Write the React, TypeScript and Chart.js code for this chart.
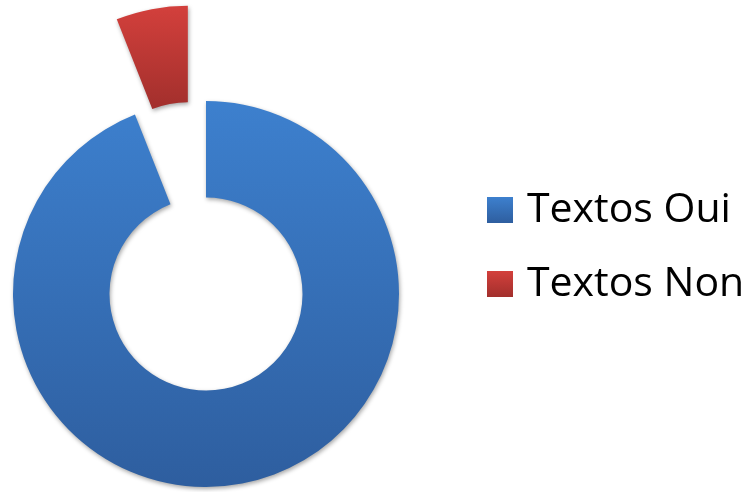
import React, { useEffect, useRef } from 'react';
import { Chart, registerables } from 'chart.js';

Chart.register(...registerables);

// ---- data ----
const categories: string[] = ['Textos Oui', 'Textos Non'];
const values: number[] = [94, 6];

// ---- styles ----
const TOP_COLORS = ['#3D80CE', '#D3403C'];
const BOTTOM_COLORS = ['#2E5E9F', '#A22F2C'];
const MID_COLORS = ['#3670B8', '#BC3734'];
const EXPLODE_PX = [0, 97];
const FONT_FAMILY = "'Open Sans', 'Noto Sans', sans-serif";
const SHIFT = 49; // canvas extends this far left of the page edge
const CANVAS_W = 809;
const CANVAS_H = 492;

function arcBounds(el: any) {
  const { y, startAngle, endAngle, innerRadius, outerRadius } = el;
  let top = Infinity;
  let bottom = -Infinity;
  const n = 90;
  for (let i = 0; i <= n; i++) {
    const a = startAngle + ((endAngle - startAngle) * i) / n;
    for (const r of [innerRadius, outerRadius]) {
      const py = y + Math.sin(a) * r;
      if (py < top) top = py;
      if (py > bottom) bottom = py;
    }
  }
  return { top, bottom };
}

const excelStyle = {
  id: 'excelStyle',
  afterDatasetsUpdate(chart: any) {
    const meta = chart.getDatasetMeta(0);
    const ctx = chart.ctx as CanvasRenderingContext2D;
    meta.data.forEach((el: any, i: number) => {
      const d = EXPLODE_PX[i] || 0;
      if (d) {
        const mid = (el.startAngle + el.endAngle) / 2;
        el.x += Math.cos(mid) * d;
        el.y += Math.sin(mid) * d;
      }
      const { top, bottom } = arcBounds(el);
      const g = ctx.createLinearGradient(0, top, 0, bottom);
      g.addColorStop(0, TOP_COLORS[i]);
      g.addColorStop(1, BOTTOM_COLORS[i]);
      el.options = Object.assign({}, el.options, { backgroundColor: g });
    });
  },
  beforeDatasetsDraw(chart: any) {
    const c = chart.ctx as CanvasRenderingContext2D;
    c.save();
    c.shadowColor = 'rgba(0,0,0,0.35)';
    c.shadowBlur = 4;
    c.shadowOffsetX = 1;
    c.shadowOffsetY = 2;
  },
  afterDatasetsDraw(chart: any) {
    chart.ctx.restore();
  },
};

function makeSwatch(i: number): HTMLCanvasElement {
  const s = document.createElement('canvas');
  s.width = 26;
  s.height = 26;
  const c = s.getContext('2d')!;
  const g = c.createLinearGradient(0, 0, 0, 26);
  g.addColorStop(0, TOP_COLORS[i]);
  g.addColorStop(1, BOTTOM_COLORS[i]);
  c.fillStyle = g;
  c.fillRect(0, 0, 26, 26);
  return s;
}

export default function App() {
  const ref = useRef<HTMLCanvasElement | null>(null);

  useEffect(() => {
    if (!ref.current) return;
    const swatches = categories.map((_, i) => makeSwatch(i));
    const chart = new Chart(ref.current, {
      type: 'doughnut',
      data: {
        labels: categories,
        datasets: [
          {
            data: values,
            backgroundColor: MID_COLORS,
            borderWidth: 0,
          },
        ],
      },
      options: {
        animation: false,
        responsive: false,
        events: [],
        radius: 193,
        cutout: '50%',
        layout: {
          padding: { left: 0.5, right: 9.5, top: 156.5, bottom: 60.5 },
        },
        plugins: {
          tooltip: { enabled: false },
          legend: {
            position: 'right',
            align: 'start',
            maxWidth: 290,
            labels: {
              usePointStyle: true,
              pointStyleWidth: 13,
              padding: 33,
              color: '#000',
              font: { family: FONT_FAMILY, size: 41 },
              generateLabels: () =>
                categories.map((text, i) => ({
                  text,
                  fillStyle: MID_COLORS[i],
                  strokeStyle: 'rgba(0,0,0,0)',
                  lineWidth: 0,
                  pointStyle: swatches[i],
                  hidden: false,
                  index: i,
                  fontColor: '#000',
                })),
            },
          },
        },
      } as any,
      plugins: [excelStyle as any],
    });
    return () => chart.destroy();
  }, []);

  return (
    <div
      style={{
        position: 'absolute',
        left: 0,
        top: 0,
        width: 748,
        height: 492,
        overflow: 'hidden',
        background: '#fff',
      }}
    >
      <canvas
        ref={ref}
        width={CANVAS_W}
        height={CANVAS_H}
        style={{ display: 'block', position: 'absolute', left: -SHIFT, top: 0 }}
      />
    </div>
  );
}
